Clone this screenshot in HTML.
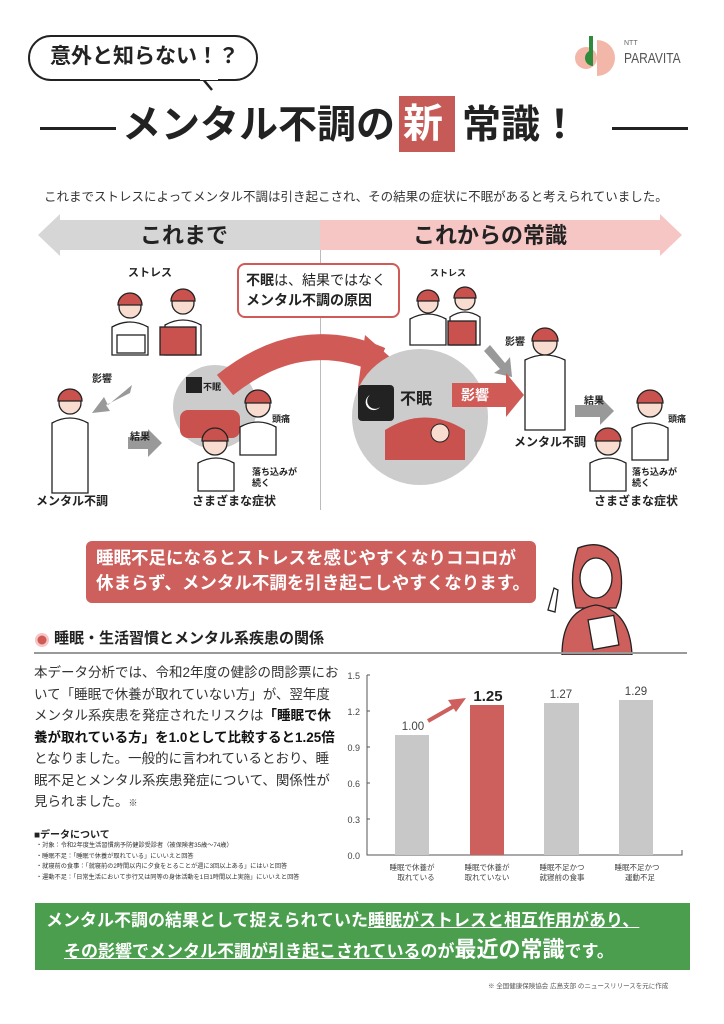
<!DOCTYPE html>
<html><head><meta charset="utf-8">
<style>
*{margin:0;padding:0;box-sizing:border-box}
body{width:724px;height:1024px;background:#fff;position:relative;overflow:hidden;font-family:"Liberation Sans","Noto Sans CJK JP",sans-serif;color:#222}
.a{position:absolute;white-space:nowrap}
.b{font-weight:bold}
</style></head><body>

<div class="a" style="left:28px;top:35px;width:230px;height:46px;border:2.5px solid #222;border-radius:23px;"></div>
<svg class="a" style="left:200px;top:76px" width="20" height="18"><path d="M2 2 L12 14" stroke="#222" stroke-width="2.5"/><rect x="0" y="0" width="18" height="4" fill="#fff"/></svg>
<div class="a b" style="left:50px;top:42px;font-size:21px;line-height:30px">意外と知らない！？</div>

<svg class="a" style="left:575px;top:36px" width="45" height="40"><circle cx="11" cy="22" r="11" fill="#f2b7a8"/><rect x="14" y="0" width="4" height="26" fill="#2e8b3b"/><path d="M10 22 a8 8 0 0 1 8 -8 v16 a8 8 0 0 1 -8 -8z" fill="#2e8b3b"/><path d="M22 4 a18 18 0 0 1 0 36z" fill="#f2b7a8"/></svg>
<div class="a" style="left:624px;top:40px;font-size:7px;color:#666">NTT</div>
<div class="a" style="left:624px;top:50px;font-size:15px;color:#555;transform:scaleX(0.8);transform-origin:left">PARAVITA</div>

<div class="a" style="left:40px;top:127px;width:76px;height:3px;background:#222"></div>
<div class="a" style="left:612px;top:127px;width:76px;height:3px;background:#222"></div>
<div class="a b" style="left:122px;top:102px;font-size:39px;line-height:48px">メンタル不調の</div>
<div class="a" style="left:399px;top:96px;width:56px;height:56px;background:#c65a57"></div>
<div class="a b" style="left:403px;top:100px;font-size:40px;line-height:48px;color:#fff">新</div>
<div class="a b" style="left:462px;top:102px;font-size:39px;line-height:48px">常識！</div>

<div class="a" style="left:44px;top:186px;font-size:12.5px;color:#333">これまでストレスによってメンタル不調は引き起こされ、その結果の症状に不眠があると考えられていました。</div>

<svg class="a" style="left:38px;top:212px" width="644" height="46">
<polygon points="0,23 22,2 22,8 282,8 282,38 22,38 22,44" fill="#d6d6d6"/>
<polygon points="282,8 622,8 622,2 644,23 622,44 622,38 282,38" fill="#f5c6c4"/>
</svg>
<div class="a b" style="left:140px;top:222px;font-size:22px;line-height:28px">これまで</div>
<div class="a b" style="left:413px;top:222px;font-size:22px;line-height:28px">これからの常識</div>
<div class="a" style="left:320px;top:250px;width:1px;height:260px;background:#bbb"></div>

<svg class="a" style="left:0;top:255px" width="724" height="260">
<g stroke="#222" stroke-width="1.3">
<circle cx="130" cy="52" r="11" fill="#f7dccf"/><path d="M118 50 a12 12 0 0 1 24 0 z" fill="#c9524e"/>
<path d="M112 100 v-28 q18 -10 36 0 v28z" fill="#fff"/>
<circle cx="183" cy="48" r="11" fill="#f7dccf"/><path d="M171 46 a12 12 0 0 1 24 0 z" fill="#c9524e"/>
<path d="M165 100 v-30 q18 -10 36 0 v30z" fill="#fff"/>
<rect x="117" y="80" width="28" height="18" fill="#fff"/>
<rect x="160" y="72" width="36" height="28" fill="#c9524e"/>
<circle cx="70" cy="148" r="11" fill="#f7dccf"/><path d="M58 146 a12 12 0 0 1 24 0z" fill="#c9524e"/>
<path d="M52 238 v-70 q18 -10 36 0 v70z" fill="#fff"/>
</g>
<polygon points="132,130 108,150 104,142 92,158 110,156 106,150 130,138" fill="#999"/>
<polygon points="128,182 148,182 148,174 162,188 148,202 148,194 128,194" fill="#999"/>
<circle cx="215" cy="152" r="42" fill="#ccc"/>
<rect x="180" y="155" width="60" height="28" rx="8" fill="#c9524e"/>
<rect x="186" y="122" width="16" height="16" fill="#222"/>
<g stroke="#222" stroke-width="1.3">
<circle cx="258" cy="150" r="12" fill="#f7dccf"/><path d="M245 148 a13 13 0 0 1 26 0z" fill="#c9524e"/>
<path d="M240 200 v-28 q18 -10 36 0 v28z" fill="#fff"/>
<circle cx="215" cy="188" r="12" fill="#f7dccf"/><path d="M202 186 a13 13 0 0 1 26 0z" fill="#c9524e"/>
<path d="M198 236 v-28 q18 -10 36 0 v28z" fill="#fff"/>
</g>
<path d="M225 130 Q300 70 380 105" stroke="#d05a55" stroke-width="26" fill="none"/>
<polygon points="365,80 408,118 358,132" fill="#d05a55"/>
<g stroke="#222" stroke-width="1.3">
<circle cx="428" cy="48" r="10" fill="#f7dccf"/><path d="M417 46 a11 11 0 0 1 22 0z" fill="#c9524e"/>
<path d="M410 90 v-26 q18 -10 36 0 v26z" fill="#fff"/>
<circle cx="465" cy="45" r="10" fill="#f7dccf"/><path d="M454 43 a11 11 0 0 1 22 0z" fill="#c9524e"/>
<path d="M450 90 v-28 q15 -10 30 0 v28z" fill="#fff"/>
<rect x="448" y="66" width="28" height="24" fill="#c9524e"/>
<circle cx="545" cy="88" r="12" fill="#f7dccf"/><path d="M532 86 a13 13 0 0 1 26 0z" fill="#c9524e"/>
<path d="M525 175 v-70 q20 -10 40 0 v70z" fill="#fff"/>
</g>
<polygon points="490,90 505,108 510,102 512,122 494,118 500,114 484,96" fill="#999"/>
<circle cx="420" cy="162" r="68" fill="#ccc"/>
<rect x="358" y="130" width="36" height="36" rx="4" fill="#222"/>
<path d="M370 140 a8 8 0 1 0 10 12 a6 6 0 1 1 -10 -12z" fill="#fff"/>
<path d="M385 175 q40 -25 80 0 v30 h-80z" fill="#c9524e"/>
<circle cx="440" cy="178" r="9" fill="#f7dccf" stroke="#222"/>
<polygon points="452,128 506,128 506,118 524,140 506,162 506,152 452,152" fill="#d05a55"/>
<polygon points="575,150 600,150 600,142 614,156 600,170 600,162 575,162" fill="#999"/>
<g stroke="#222" stroke-width="1.3">
<circle cx="650" cy="150" r="12" fill="#f7dccf"/><path d="M637 148 a13 13 0 0 1 26 0z" fill="#c9524e"/>
<path d="M632 205 v-32 q18 -10 36 0 v32z" fill="#fff"/>
<circle cx="608" cy="188" r="12" fill="#f7dccf"/><path d="M595 186 a13 13 0 0 1 26 0z" fill="#c9524e"/>
<path d="M590 236 v-28 q18 -10 36 0 v28z" fill="#fff"/>
</g>
</svg>
<div class="a b" style="left:128px;top:264px;font-size:11px">ストレス</div>
<div class="a b" style="left:92px;top:370px;font-size:10px">影響</div>
<div class="a b" style="left:36px;top:492px;font-size:12px">メンタル不調</div>
<div class="a b" style="left:130px;top:428px;font-size:10px">結果</div>
<div class="a b" style="left:203px;top:380px;font-size:9px">不眠</div>
<div class="a b" style="left:272px;top:412px;font-size:9px">頭痛</div>
<div class="a b" style="left:252px;top:467px;font-size:9px;line-height:11px">落ち込みが<br>続く</div>
<div class="a b" style="left:192px;top:492px;font-size:12px">さまざまな症状</div>
<div class="a" style="left:237px;top:263px;width:163px;height:55px;border:2px solid #d05a55;border-radius:8px;background:#fff"></div>
<div class="a b" style="left:246px;top:270px;font-size:14px;line-height:20px"><span style="font-weight:bold">不眠</span><span style="font-weight:normal">は、結果ではなく</span><br>メンタル不調の原因</div>
<div class="a b" style="left:430px;top:266px;font-size:9px">ストレス</div>
<div class="a b" style="left:505px;top:333px;font-size:10px">影響</div>
<div class="a b" style="left:514px;top:433px;font-size:12px">メンタル不調</div>
<div class="a b" style="left:400px;top:385px;font-size:16px">不眠</div>
<div class="a b" style="left:461px;top:385px;font-size:14px;color:#fff">影響</div>
<div class="a b" style="left:584px;top:392px;font-size:10px">結果</div>
<div class="a b" style="left:668px;top:412px;font-size:9px">頭痛</div>
<div class="a b" style="left:632px;top:467px;font-size:9px;line-height:11px">落ち込みが<br>続く</div>
<div class="a b" style="left:594px;top:492px;font-size:12px">さまざまな症状</div>

<div class="a" style="left:86px;top:541px;width:450px;height:62px;background:#cd5f5c;border-radius:6px"></div>
<div class="a b" style="left:96px;top:546px;font-size:17.5px;line-height:25px;color:#fff">睡眠不足になるとストレスを感じやすくなりココロが<br>休まらず、メンタル不調を引き起こしやすくなります。</div>
<svg class="a" style="left:540px;top:540px" width="110" height="115">
<g stroke="#222" stroke-width="1.3">
<path d="M38 8 q25 -10 40 10 q8 30 -2 50 h-40 q-8 -30 2 -60z" fill="#cd5f5c"/>
<ellipse cx="56" cy="38" rx="16" ry="20" fill="#fff"/>
<path d="M22 115 q0 -45 34 -50 q34 5 36 50z" fill="#cd5f5c"/>
<rect x="50" y="78" width="26" height="30" fill="#fff" transform="rotate(-10 60 90)"/>
<path d="M8 70 l6 -22 l4 2 l-3 22z" fill="#fff"/>
</g>
</svg>

<svg class="a" style="left:34px;top:632px" width="16" height="16"><circle cx="8" cy="8" r="7" fill="#f5c6c4"/><circle cx="8" cy="8" r="4.5" fill="#d05a55"/></svg>
<div class="a b" style="left:54px;top:629px;font-size:15px;line-height:20px">睡眠・生活習慣とメンタル系疾患の関係</div>
<div class="a" style="left:34px;top:652px;width:653px;height:2px;background:#999"></div>

<div class="a" style="left:34px;top:662px;font-size:13.5px;line-height:21.5px;color:#333">本データ分析では、令和2年度の健診の問診票にお<br>いて「睡眠で休養が取れていない方」が、翌年度<br>メンタル系疾患を発症されたリスクは<b style="color:#111">「睡眠で休</b><br><b style="color:#111">養が取れている方」を1.0として比較すると1.25倍</b><br>となりました。一般的に言われているとおり、睡<br>眠不足とメンタル系疾患発症について、関係性が<br>見られました。<span style="font-size:9px">※</span></div>

<div class="a b" style="left:34px;top:826px;font-size:10px">■データについて</div>
<div class="a" style="left:36px;top:841px;font-size:6.2px;line-height:10.5px;color:#333">・対象：令和2年度生活習慣病予防健診受診者（被保険者35歳〜74歳）<br>・睡眠不足：「睡眠で休養が取れている」にいいえと回答<br>・就寝前の食事：「就寝前の2時間以内に夕食をとることが週に3回以上ある」にはいと回答<br>・運動不足：「日常生活において歩行又は同等の身体活動を1日1時間以上実施」にいいえと回答</div>

<svg class="a" style="left:340px;top:660px" width="384" height="240" font-family="Liberation Sans, Noto Sans CJK JP, sans-serif">
<g fill="#444" font-size="9" text-anchor="end">
<text x="20" y="19">1.5</text><text x="20" y="55">1.2</text><text x="20" y="91">0.9</text><text x="20" y="127">0.6</text><text x="20" y="163">0.3</text><text x="20" y="199">0.0</text>
</g>
<path d="M27 15 V195 H342 V190" stroke="#555" stroke-width="1" fill="none"/>
<g stroke="#555"><path d="M27 15h3M27 51h3M27 87h3M27 123h3M27 159h3"/></g>
<rect x="55" y="75" width="34" height="120" fill="#c8c8c8"/>
<rect x="130" y="45" width="34" height="150" fill="#cd5f5c"/>
<rect x="204" y="43" width="35" height="152" fill="#c8c8c8"/>
<rect x="279" y="40" width="34" height="155" fill="#c8c8c8"/>
<g text-anchor="middle" fill="#444" font-size="11.5">
<text x="73" y="70">1.00</text><text x="221" y="38">1.27</text><text x="296" y="35">1.29</text>
</g>
<text x="148" y="41" text-anchor="middle" font-size="15" font-weight="bold" fill="#222">1.25</text>
<path d="M88 61 L116 45" stroke="#cd5f5c" stroke-width="4"/>
<polygon points="126,38 108,40 116,52" fill="#cd5f5c"/>
<g fill="#444" font-size="7.5" text-anchor="middle">
<text x="72" y="210">睡眠で休養が</text><text x="76" y="220">取れている</text>
<text x="147" y="210">睡眠で休養が</text><text x="147" y="220">取れていない</text>
<text x="222" y="210">睡眠不足かつ</text><text x="222" y="220">就寝前の食事</text>
<text x="297" y="210">睡眠不足かつ</text><text x="300" y="220">運動不足</text>
</g>
</svg>

<div class="a" style="left:35px;top:903px;width:655px;height:67px;background:#4a9e4e"></div>
<div class="a b" style="left:46px;top:906px;font-size:17px;line-height:29px;color:#fff">メンタル不調の結果として捉えられていた<u>睡眠がストレスと相互作用があり、</u></div>
<div class="a b" style="left:64px;top:934px;font-size:17px;line-height:32px;color:#fff"><u>その影響でメンタル不調が引き起こされている</u>のが<span style="font-size:22px">最近の常識</span>です。</div>

<div class="a" style="left:488px;top:980px;font-size:6.5px;color:#555">※ 全国健康保険協会 広島支部 のニュースリリースを元に作成</div>
</body></html>
